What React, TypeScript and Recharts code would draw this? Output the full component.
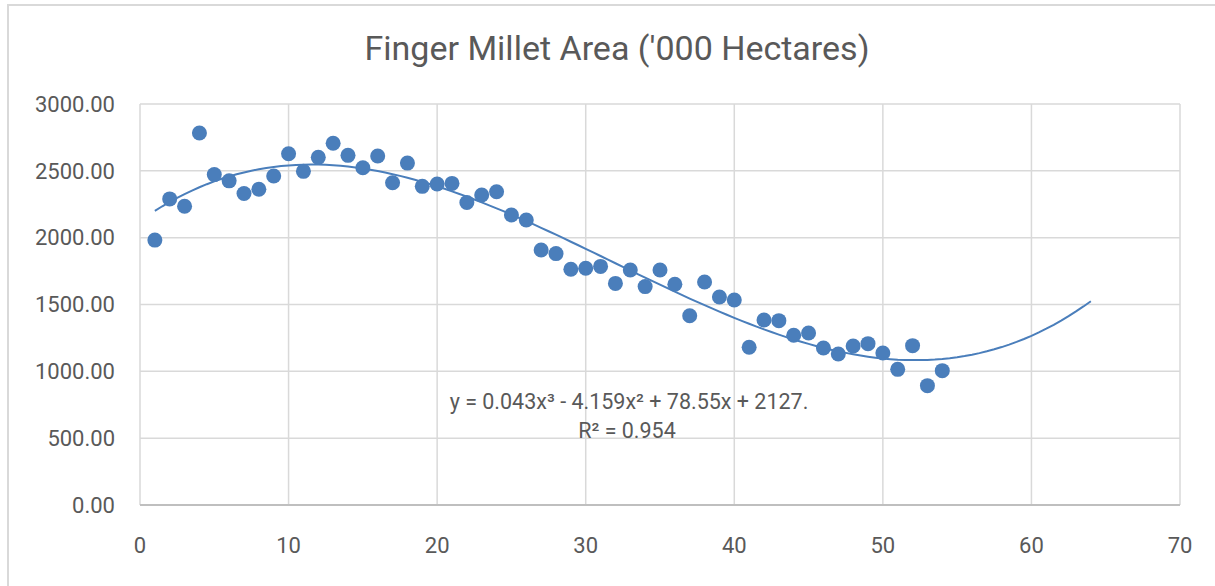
import React from 'react';
import { ScatterChart, Scatter, XAxis, YAxis, CartesianGrid } from 'recharts';

// Year index (1..54) and finger millet area ('000 ha)
const yearIndex = [
  1, 2, 3, 4, 5, 6, 7, 8, 9, 10, 11, 12, 13, 14, 15, 16, 17, 18,
  19, 20, 21, 22, 23, 24, 25, 26, 27, 28, 29, 30, 31, 32, 33, 34, 35, 36,
  37, 38, 39, 40, 41, 42, 43, 44, 45, 46, 47, 48, 49, 50, 51, 52, 53, 54,
];
const areaValues = [
  1982, 2290, 2235, 2783, 2472, 2425, 2330, 2362, 2461, 2628, 2496, 2601, 2706, 2616, 2523, 2611, 2411, 2558,
  2384, 2401, 2406, 2263, 2319, 2344, 2170, 2132, 1908, 1881, 1764, 1771, 1785, 1658, 1758, 1634, 1758, 1651,
  1416, 1668, 1556, 1534, 1180, 1384, 1379, 1270, 1287, 1175, 1130, 1189, 1207, 1137, 1015, 1192, 893, 1005,
];
const xTicks = [0, 10, 20, 30, 40, 50, 60, 70];
const yTicks = [0, 500, 1000, 1500, 2000, 2500, 3000];
const trendRange = [1, 64]; // trendline is forecast forward past the last point

const TITLE = "Finger Millet Area ('000 Hectares)";
const EQUATION = 'y = 0.043x³ - 4.159x² + 78.55x + 2127.';
const R_SQUARED = 'R² = 0.954';

const BLUE = '#4a7ebb';
const TEXT = '#595959';

const points = yearIndex.map((x, i) => ({ x, y: areaValues[i] }));

// cubic least-squares fit, same as the Excel polynomial trendline
function fitCubic(xs: number[], ys: number[]) {
  const n = 4;
  const A: number[][] = [];
  for (let i = 0; i < n; i++) {
    const row: number[] = [];
    for (let j = 0; j < n; j++) {
      row.push(xs.reduce((s, x) => s + Math.pow(x, i + j), 0));
    }
    row.push(xs.reduce((s, x, k) => s + ys[k] * Math.pow(x, i), 0));
    A.push(row);
  }
  for (let c = 0; c < n; c++) {
    let p = c;
    for (let r = c + 1; r < n; r++) if (Math.abs(A[r][c]) > Math.abs(A[p][c])) p = r;
    [A[c], A[p]] = [A[p], A[c]];
    for (let r = 0; r < n; r++) {
      if (r === c) continue;
      const f = A[r][c] / A[c][c];
      for (let k = c; k <= n; k++) A[r][k] -= f * A[c][k];
    }
  }
  return A.map((row, i) => row[n] / row[i]);
}

const coef = fitCubic(yearIndex, areaValues);
const trend: { x: number; y: number }[] = [];
for (let x = trendRange[0]; x <= trendRange[1] + 1e-9; x += 0.5) {
  trend.push({ x, y: coef[0] + coef[1] * x + coef[2] * x * x + coef[3] * x * x * x });
}

const Dot = (props: any) => <circle cx={props.cx} cy={props.cy} r={7.5} fill={BLUE} />;
const NoDot = () => <g />;

export default function App() {
  return (
    <div style={{ position: 'absolute', left: 0, top: 0, width: 1215, height: 586, overflow: 'hidden', background: '#fff' }}>
      {/* chart frame, runs off the right and bottom of the picture */}
      <div
        style={{
          position: 'absolute', left: 7, top: 4, width: 1300, height: 700,
          borderLeft: '2px solid #d9d9d9', borderTop: '2px solid #d9d9d9',
        }}
      />
      <div style={{ position: 'absolute', left: 0, top: 0 }}>
        <ScatterChart width={1215} height={586} margin={{ top: 104, right: 35, bottom: 51, left: 20 }}>
          <CartesianGrid stroke="#d9d9d9" strokeWidth={1.5} />
          <XAxis
            type="number"
            dataKey="x"
            domain={[0, 70]}
            ticks={xTicks}
            interval={0}
            height={30}
            allowDataOverflow
            tickLine={false}
            tickSize={0}
            tickMargin={32}
            axisLine={{ stroke: '#bfbfbf', strokeWidth: 2 }}
            tick={{ fill: TEXT, fontSize: 22, fontFamily: 'Roboto' }}
          />
          <YAxis
            type="number"
            dataKey="y"
            domain={[0, 3000]}
            ticks={yTicks}
            interval={0}
            width={120}
            axisLine={false}
            tickLine={false}
            tickSize={0}
            tickMargin={25}
            tickFormatter={(v: number) => v.toFixed(2)}
            tick={{ fill: TEXT, fontSize: 22, fontFamily: 'Roboto' }}
          />
          <Scatter
            data={trend}
            line={{ stroke: BLUE, strokeWidth: 2 }}
            lineType="joint"
            shape={NoDot}
            isAnimationActive={false}
          />
          <Scatter data={points} shape={Dot} isAnimationActive={false} />
        </ScatterChart>
      </div>
      <svg width={1215} height={586} style={{ position: 'absolute', left: 0, top: 0, pointerEvents: 'none' }}>
        <text x={617} y={60} textAnchor="middle" fill={TEXT} fontSize={34} fontFamily="Roboto">
          {TITLE}
        </text>
        <text x={629} y={409} textAnchor="middle" fill={TEXT} fontSize={21.5} fontFamily="Roboto">
          {EQUATION}
        </text>
        <text x={627} y={438} textAnchor="middle" fill={TEXT} fontSize={21.5} fontFamily="Roboto">
          {R_SQUARED}
        </text>
      </svg>
    </div>
  );
}
